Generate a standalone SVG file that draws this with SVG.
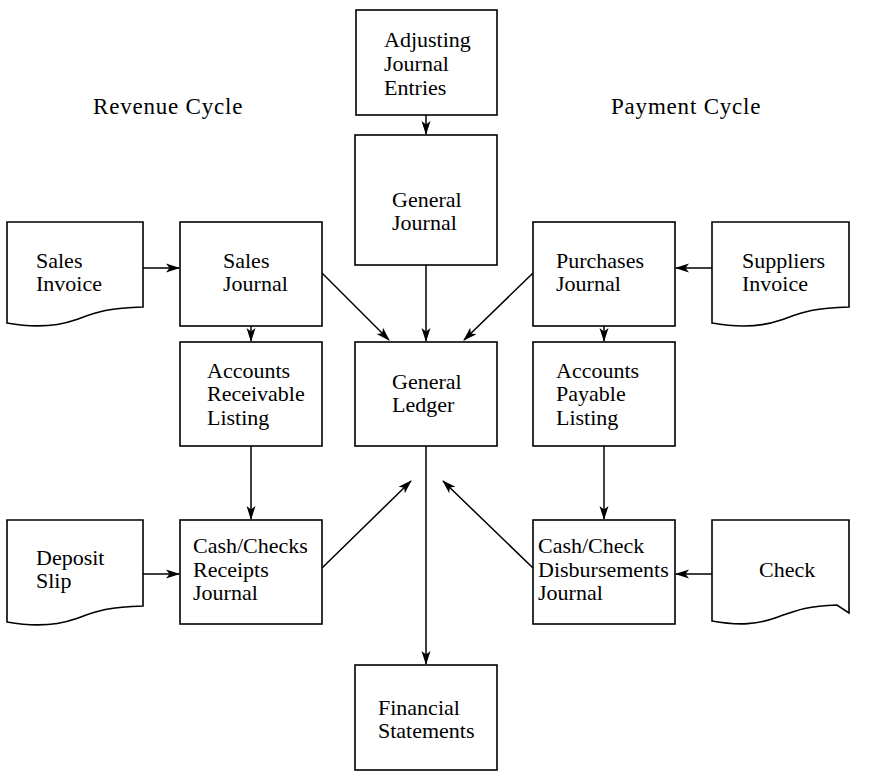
<svg xmlns="http://www.w3.org/2000/svg" width="870" height="779" viewBox="0 0 870 779">
  <defs>
    <marker id="arrow" viewBox="0 0 14 10" refX="13" refY="5" markerWidth="14" markerHeight="10" markerUnits="userSpaceOnUse" orient="auto">
      <path d="M0,0.5 L14,5 L0,9.5 L3.5,5 Z" fill="#000"/>
    </marker>
  </defs>
  <style>
    .box { fill: #fff; stroke: #000; stroke-width: 1.6; }
    .doc { fill: #fff; stroke: #000; stroke-width: 1.6; stroke-linejoin: miter; }
    .lbl { font-family: "Liberation Serif", "Times New Roman", serif; font-size: 22px; fill: #000; }
    .head { font-family: "Liberation Serif", "Times New Roman", serif; font-size: 23px; letter-spacing: 0.8px; fill: #000; }
    .conn line { stroke: #000; stroke-width: 1.5; marker-end: url(#arrow); }
  </style>
  <rect width="870" height="779" fill="#fff"/>

  <!-- section headings -->
  <text class="head" x="93" y="114">Revenue Cycle</text>
  <text class="head" x="611" y="114">Payment Cycle</text>

  <!-- connectors -->
  <g id="connectors" class="conn">
    <line x1="426" y1="115" x2="426" y2="134"/>
    <line x1="426" y1="265" x2="426" y2="341"/>
    <line x1="426" y1="446" x2="426" y2="664"/>
    <line x1="251" y1="326" x2="251" y2="341"/>
    <line x1="251" y1="446" x2="251" y2="519"/>
    <line x1="604" y1="326" x2="604" y2="341"/>
    <line x1="604" y1="446" x2="604" y2="519"/>
    <line x1="143" y1="268" x2="179" y2="268"/>
    <line x1="712" y1="268" x2="676" y2="268"/>
    <line x1="143" y1="574" x2="179" y2="574"/>
    <line x1="712" y1="574" x2="676" y2="574"/>
    <line x1="322" y1="273" x2="389" y2="340"/>
    <line x1="533" y1="273" x2="464" y2="340"/>
    <line x1="322" y1="568" x2="411" y2="481"/>
    <line x1="533" y1="568" x2="443" y2="481"/>
  </g>

  <!-- central column -->
  <g id="adjusting-journal-entries">
    <rect class="box" x="356" y="10" width="141" height="105"/>
    <text class="lbl" x="384" y="47">Adjusting</text>
    <text class="lbl" x="384" y="71">Journal</text>
    <text class="lbl" x="384" y="95">Entries</text>
  </g>
  <g id="general-journal">
    <rect class="box" x="355" y="135" width="142" height="130"/>
    <text class="lbl" x="392" y="207">General</text>
    <text class="lbl" x="392" y="230">Journal</text>
  </g>
  <g id="general-ledger">
    <rect class="box" x="355" y="342" width="142" height="104"/>
    <text class="lbl" x="392" y="389">General</text>
    <text class="lbl" x="392" y="412">Ledger</text>
  </g>
  <g id="financial-statements">
    <rect class="box" x="355" y="665" width="142" height="105"/>
    <text class="lbl" x="378" y="715">Financial</text>
    <text class="lbl" x="378" y="738">Statements</text>
  </g>

  <!-- revenue cycle -->
  <g id="sales-invoice">
    <path class="doc" d="M7,222 H143 V307 C105,308 95,313 75,320 C58,326 35,328 7,323 Z"/>
    <text class="lbl" x="36" y="268">Sales</text>
    <text class="lbl" x="36" y="291">Invoice</text>
  </g>
  <g id="sales-journal">
    <rect class="box" x="180" y="222" width="142" height="104"/>
    <text class="lbl" x="223" y="268">Sales</text>
    <text class="lbl" x="223" y="291">Journal</text>
  </g>
  <g id="accounts-receivable-listing">
    <rect class="box" x="180" y="342" width="142" height="104"/>
    <text class="lbl" x="207" y="378">Accounts</text>
    <text class="lbl" x="207" y="401">Receivable</text>
    <text class="lbl" x="207" y="425">Listing</text>
  </g>
  <g id="deposit-slip">
    <path class="doc" d="M7,520 H143 V606 C105,607 95,612 75,619 C58,625 35,627 7,622 Z"/>
    <text class="lbl" x="36" y="565">Deposit</text>
    <text class="lbl" x="36" y="588">Slip</text>
  </g>
  <g id="cash-checks-receipts-journal">
    <rect class="box" x="180" y="520" width="142" height="104"/>
    <text class="lbl" x="193" y="553">Cash/Checks</text>
    <text class="lbl" x="193" y="577">Receipts</text>
    <text class="lbl" x="193" y="600">Journal</text>
  </g>

  <!-- payment cycle -->
  <g id="purchases-journal">
    <rect class="box" x="533" y="222" width="142" height="104"/>
    <text class="lbl" x="556" y="268">Purchases</text>
    <text class="lbl" x="556" y="291">Journal</text>
  </g>
  <g id="suppliers-invoice">
    <path class="doc" d="M712,222 H849 V307 C811,308 801,313 781,320 C764,326 740,328 712,323 Z"/>
    <text class="lbl" x="742" y="268">Suppliers</text>
    <text class="lbl" x="742" y="291">Invoice</text>
  </g>
  <g id="accounts-payable-listing">
    <rect class="box" x="533" y="342" width="142" height="104"/>
    <text class="lbl" x="556" y="378">Accounts</text>
    <text class="lbl" x="556" y="401">Payable</text>
    <text class="lbl" x="556" y="425">Listing</text>
  </g>
  <g id="cash-check-disbursements-journal">
    <rect class="box" x="533" y="520" width="142" height="104"/>
    <text class="lbl" x="538" y="553">Cash/Check</text>
    <text class="lbl" x="538" y="577">Disbursements</text>
    <text class="lbl" x="538" y="600">Journal</text>
  </g>
  <g id="check">
    <path class="doc" d="M712,520 H849 V613 L837,605 C805,606 795,611 775,618 C758,624 740,626 712,621 Z"/>
    <text class="lbl" x="759" y="577">Check</text>
  </g>
</svg>
